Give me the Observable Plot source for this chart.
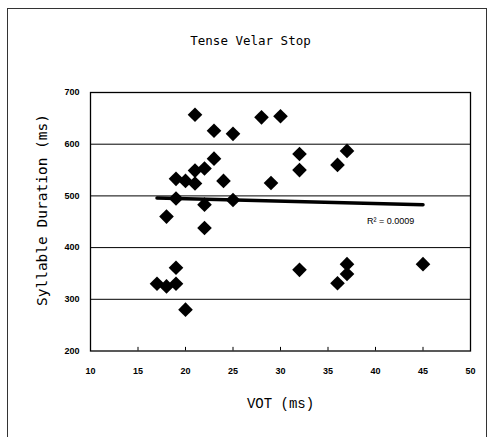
<!DOCTYPE html>
<html>
<head>
<meta charset="utf-8">
<script src="https://cdn.jsdelivr.net/npm/d3@7"></script>
<script src="https://cdn.jsdelivr.net/npm/@observablehq/plot@0.6"></script>
<style>
  html, body { margin: 0; padding: 0; background: #fff; }
  #wrap { position: relative; width: 491px; height: 437px; overflow: hidden; background: #fff; }
  #outer { position: absolute; left: 7px; top: 8px; width: 480px; height: 470px; border: 1px solid #333; box-sizing: border-box; }
  #chart { position: absolute; left: 0; top: 0; }
  #ylab { position: absolute; left: 42px; top: 210px; transform: translate(-50%, -50%) rotate(-90deg);
          white-space: nowrap; font-family: "DejaVu Sans Mono", monospace; font-size: 14.5px; color: #000; line-height: 1; }
</style>
</head>
<body>
<div id="wrap"><div id="outer"></div><div id="chart"></div><div id="ylab"></div></div>
<script>
const title = "Tense Velar Stop";
const xLabel = "VOT (ms)";
const yLabel = "Syllable Duration (ms)";
const r2Label = "R² = 0.0009";

const vot =      [17, 18, 19, 19, 20, 18, 19, 19, 20, 21, 21, 22, 23, 21, 23, 25, 22, 22, 24, 25, 28, 30, 29, 32, 32, 32, 36, 37, 37, 37, 36, 45];
const duration = [330,325,330,361,280,460,495,533,529,524,549,553,572,657,626,620,483,438,529,492,652,654,525,581,550,357,560,587,368,349,331,368];

const trendVot = [17, 45];
const trendDuration = [496, 483];

const xTicks = [10, 15, 20, 25, 30, 35, 40, 45, 50];
const yTicks = [200, 300, 400, 500, 600, 700];
const gridValues = [300, 400, 500, 600];
const r2Pos = {x: 41.6, y: 452};

const points = vot.map((v, i) => ({vot: v, duration: duration[i]}));
const trend = trendVot.map((v, i) => ({vot: v, duration: trendDuration[i]}));

const chart = Plot.plot({
  width: 491,
  height: 437,
  marginLeft: 90,
  marginRight: 21,
  marginTop: 92,
  marginBottom: 86.5,
  style: {background: "transparent", color: "#000"},
  x: {domain: [10, 50]},
  y: {domain: [200, 700]},
  marks: [
    Plot.ruleY(gridValues, {stroke: "#000", strokeWidth: 1}),
    Plot.frame({stroke: "#000", strokeWidth: 1.3}),
    Plot.ruleX(xTicks, {y1: 200, y2: 207, stroke: "#000"}),
    Plot.axisX({ticks: xTicks, tickSize: 0, tickPadding: 17, label: null,
      fontSize: 9, fontWeight: "bold", fontFamily: "Liberation Sans, Arial, sans-serif"}),
    Plot.axisY({ticks: yTicks, tickSize: 0, tickPadding: 11, label: null,
      fontSize: 9, fontWeight: "bold", fontFamily: "Liberation Sans, Arial, sans-serif"}),
    Plot.line(trend, {x: "vot", y: "duration", stroke: "#000", strokeWidth: 3.5}),
    Plot.dot(points, {x: "vot", y: "duration", symbol: "diamond2", r: 6.6, fill: "#000", stroke: "none"}),
    Plot.text([r2Label], {x: () => r2Pos.x, y: () => r2Pos.y, text: d => d, fontSize: 9,
      fontFamily: "Liberation Sans, Arial, sans-serif", fill: "#000"}),
    Plot.text([title], {frameAnchor: "top", dx: -30, dy: -52, text: d => d, fontSize: 12.5, lineAnchor: "middle",
      fontFamily: "DejaVu Sans Mono, monospace", fill: "#000"}),
    Plot.text([xLabel], {frameAnchor: "bottom", dy: 53, text: d => d, fontSize: 14, lineAnchor: "middle",
      fontFamily: "Liberation Mono, monospace", fill: "#000"})
  ]
});
document.getElementById("chart").appendChild(chart);
document.getElementById("ylab").textContent = yLabel;
</script>
</body>
</html>
